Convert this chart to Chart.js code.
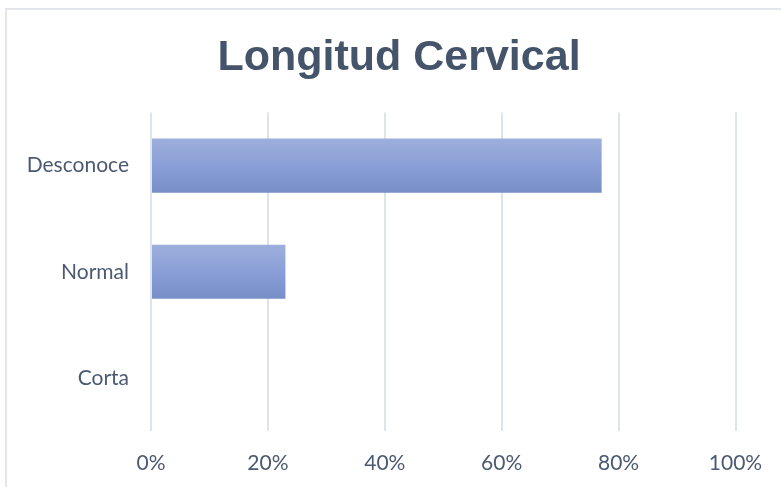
<!DOCTYPE html>
<html>
<head>
<meta charset="utf-8">
<script src="https://cdn.jsdelivr.net/npm/chart.js@4.4.0/dist/chart.umd.min.js"></script>
<style>
  html, body { margin: 0; padding: 0; background: #fff; }
  #wrap { position: relative; width: 781px; height: 487px; overflow: hidden; }
  #frame { position: absolute; left: 5px; top: 8px; width: 900px; height: 600px;
           border: 2px solid #e3e6eb; box-sizing: border-box; }
  canvas { position: absolute; left: 0; top: 0; }
</style>
</head>
<body>
<div id="wrap">
  <div id="frame"></div>
  <canvas id="grafico" width="781" height="487"></canvas>
</div>
<script>
var categorias = ["Desconoce", "Normal", "Corta"];
var porcentajes = [77.1, 23.0, 0];
var ticksX = [0, 20, 40, 60, 80, 100];

var grosorBarra = 0.51;

function degradado(ctx) {
    var chart = ctx.chart;
    var y = chart.scales && chart.scales.y;
    if (!chart.chartArea || !y || ctx.dataIndex === undefined) {
        return "#8a9fd6";
    }
    var centro = y.getPixelForValue(ctx.dataIndex);
    var alto = (chart.chartArea.bottom - chart.chartArea.top) / categorias.length * grosorBarra;
    var g = chart.ctx.createLinearGradient(0, centro - alto / 2, 0, centro + alto / 2);
    g.addColorStop(0, "#9dafdc");
    g.addColorStop(0.5, "#8a9fd7");
    g.addColorStop(1, "#778ec7");
    return g;
}

var ctxBarras = document.getElementById("grafico");

new Chart(ctxBarras, {
    type: "bar",
    data: {
        labels: categorias,
        datasets: [{
            label: "Longitud Cervical",
            data: porcentajes,
            backgroundColor: degradado,
            barPercentage: grosorBarra,
            categoryPercentage: 1
        }]
    },
    options: {
        indexAxis: "y",
        responsive: false,
        animation: false,
        layout: { padding: { top: 12, left: 17, right: 0, bottom: 0 } },
        plugins: {
            legend: { display: false },
            tooltip: { enabled: false },
            title: {
                display: true,
                text: "Longitud Cervical",
                color: "#44546a",
                font: { family: "Liberation Sans", size: 43, weight: "bold" },
                padding: { top: 20, bottom: 29 }
            }
        },
        scales: {
            x: {
                min: 0,
                max: 100,
                afterBuildTicks: function (scale) {
                    scale.ticks = ticksX.map(function (v) { return { value: v }; });
                },
                afterFit: function (scale) {
                    scale.height = 56;
                    scale.paddingRight = 45.5;
                },
                grid: { color: "#dfe3ea", lineWidth: 2, drawTicks: false },
                border: { display: false },
                ticks: {
                    padding: 20,
                    color: "#4b5a70",
                    font: { family: "Lato", size: 21 },
                    callback: function (v) { return v + "%"; }
                }
            },
            y: {
                afterFit: function (scale) { scale.width = 134; },
                grid: { display: false, drawTicks: false },
                border: { display: false },
                ticks: {
                    padding: 22,
                    color: "#4b5a70",
                    font: { family: "Lato", size: 21 }
                }
            }
        }
    }
});
</script>
</body>
</html>
